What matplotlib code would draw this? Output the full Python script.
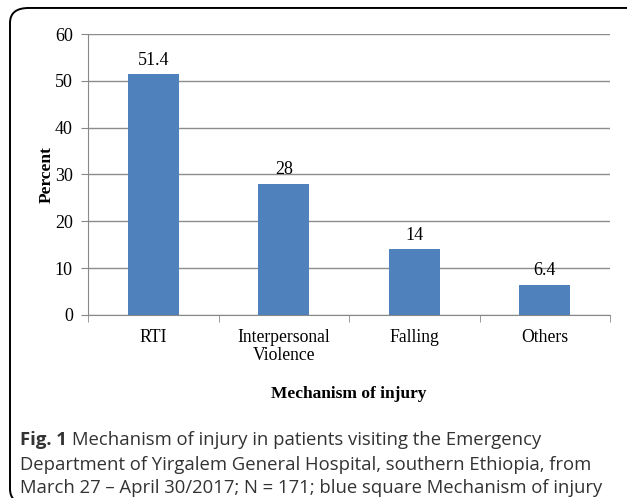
import numpy as np
import matplotlib.pyplot as plt
from matplotlib.patches import FancyBboxPatch

categories = ['RTI', 'Interpersonal\nViolence', 'Falling', 'Others']
percent = [51.4, 28, 14, 6.4]
value_labels = ['51.4', '28', '14', '6.4']

serif = ['Liberation Serif', 'DejaVu Serif']

fig = plt.figure(figsize=(6.27, 4.98), dpi=100)
ax = fig.add_axes([0.1404, 0.3675, 0.8326, 0.5642])

x = np.arange(len(categories))
ax.bar(x, percent, 0.39, color='#4F81BD', zorder=3)
for xi, v, lab in zip(x, percent, value_labels):
    ax.text(xi, v + 1.2, lab, ha='center', va='bottom', fontsize=13, family=serif)

ax.set_xlim(-0.5, len(categories) - 0.5)
ax.set_ylim(0, 60)
ax.set_yticks(range(0, 61, 10))
ax.set_yticklabels([str(t) for t in range(0, 61, 10)], family=serif, fontsize=13)
ax.set_xticks(x)
ax.set_xticklabels(categories, family=serif, fontsize=12.7, linespacing=1.1)
ax.set_xticks(np.arange(-0.5, len(categories), 1), minor=True)
ax.tick_params(axis='x', which='major', length=0, pad=10)
ax.tick_params(axis='x', which='minor', length=5, color='#888888')
ax.tick_params(axis='y', length=5, color='#888888', pad=6)

ax.grid(axis='y', color='#8c8c8c', linewidth=1, zorder=0)
for s in ['top', 'right']:
    ax.spines[s].set_visible(False)
for s in ['left', 'bottom']:
    ax.spines[s].set_color('#888888')

ax.set_ylabel('Percent', family=serif, fontsize=12.5, fontweight='bold', labelpad=0)
ax.set_xlabel('Mechanism of injury', family=serif, fontsize=12.5, fontweight='bold', labelpad=16)

# caption: bold "Fig. 1" followed by regular text
cap_font = dict(fontsize=13.3, family='Open Sans', color='#333333', va='baseline')
fig.canvas.draw()
r = fig.canvas.get_renderer()
t = fig.text(0.032, 0.107, 'Fig. 1', fontweight='bold', **cap_font)
bb = t.get_window_extent(r)
x2 = (bb.x1 + 5) / fig.bbox.width
fig.text(x2, 0.107, 'Mechanism of injury in patients visiting the Emergency', **cap_font)
fig.text(0.032, 0.057, 'Department of Yirgalem General Hospital, southern Ethiopia, from', **cap_font)
fig.text(0.032, 0.011, 'March 27 \u2013 April 30/2017; N = 171; blue square Mechanism of injury', **cap_font)

# rounded frame, right and bottom sides run off the image
box = FancyBboxPatch((10 / 627, -0.012), 1.2, 0.996,
                     boxstyle='round,pad=0,rounding_size=0.03',
                     transform=fig.transFigure, fill=False, edgecolor='black',
                     linewidth=1.4, clip_on=False)
fig.patches.append(box)

fig.savefig('out.png', dpi=100)
